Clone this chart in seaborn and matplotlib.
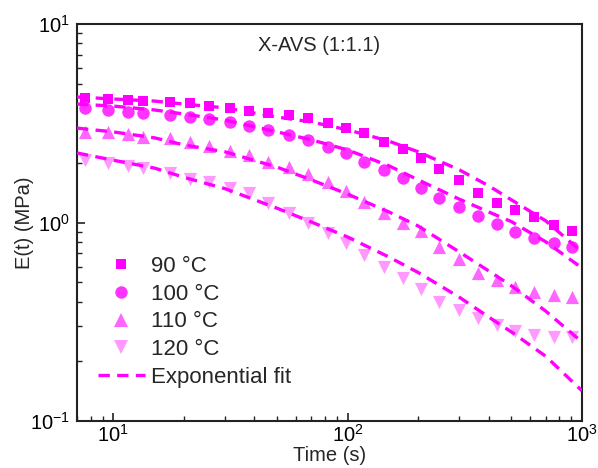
import numpy as np
import pandas as pd
import seaborn as sns
import matplotlib
matplotlib.use("Agg")
import matplotlib.pyplot as plt
from matplotlib.lines import Line2D
from matplotlib.ticker import LogLocator, NullFormatter

# Relaxation modulus measurements (time in s, modulus in MPa)
time_s = [7.6, 9.5, 11.5, 13.4, 17.5, 21.3, 25.5, 31.6, 37.8, 45.5, 56.0, 67.5, 82.2,
          98.0, 117, 143, 172, 205, 245, 298, 359, 434, 517, 624, 759, 906]
E_90 = [4.24, 4.19, 4.14, 4.09, 4.05, 4.00, 3.86, 3.78, 3.65, 3.56, 3.48, 3.36, 3.17,
        2.99, 2.83, 2.55, 2.35, 2.12, 1.87, 1.64, 1.41, 1.25, 1.16, 1.07, 0.97, 0.91]
E_100 = [3.78, 3.69, 3.60, 3.56, 3.48, 3.40, 3.32, 3.21, 3.08, 2.93, 2.76, 2.61, 2.40,
         2.24, 2.02, 1.84, 1.67, 1.50, 1.33, 1.20, 1.08, 0.98, 0.90, 0.84, 0.79, 0.75]
E_110 = [2.86, 2.86, 2.79, 2.70, 2.67, 2.55, 2.43, 2.29, 2.19, 2.02, 1.90, 1.75, 1.60,
         1.44, 1.27, 1.12, 0.99, 0.91, 0.75, 0.655, 0.557, 0.513, 0.473, 0.447, 0.431, 0.421]
E_120 = [2.06, 1.99, 1.93, 1.88, 1.78, 1.66, 1.60, 1.49, 1.41, 1.25, 1.12, 0.99, 0.885,
         0.79, 0.686, 0.597, 0.525, 0.463, 0.397, 0.362, 0.330, 0.305, 0.284, 0.271, 0.265, 0.265]

# Exponential fit curves sampled along the time axis
fit_time = [7, 10, 15, 20, 30, 50, 70, 100, 150, 200, 300, 400, 500, 700, 1000]
fit_90 = [4.29, 4.19, 4.09, 3.95, 3.78, 3.40, 3.21, 2.93, 2.57, 2.27, 1.84, 1.53, 1.30, 1.02, 0.71]
fit_100 = [3.95, 3.86, 3.69, 3.52, 3.28, 2.86, 2.61, 2.32, 1.93, 1.64, 1.31, 1.13, 1.01, 0.80, 0.59]
fit_110 = [2.99, 2.86, 2.67, 2.46, 2.27, 1.90, 1.64, 1.39, 1.13, 0.96, 0.71, 0.57, 0.48, 0.358, 0.25]
fit_120 = [2.24, 2.06, 1.88, 1.69, 1.48, 1.18, 1.006, 0.845, 0.67, 0.56, 0.42, 0.334, 0.281, 0.212, 0.142]

labels = ["90 °C", "100 °C", "110 °C", "120 °C"]
markers = ["s", "o", "^", "v"]
colors = ["#ff00ff", "#ff33ff", "#ff66ff", "#ff99ff"]
sizes = [62, 80, 90, 90]
fit_color = "#ff00ff"
fit_dash = (0, (3.4, 2.2))

sns.set_theme(style="white")
plt.rcParams["font.family"] = ["Liberation Sans", "DejaVu Sans"]
plt.rcParams["mathtext.fontset"] = "custom"
plt.rcParams["mathtext.rm"] = "Liberation Sans"
plt.rcParams["axes.unicode_minus"] = False

fig = plt.figure(figsize=(5.98, 4.68), dpi=100)
ax = fig.add_axes([0.1288, 0.1004, 0.8444, 0.8483])

series = [E_90, E_100, E_110, E_120]
fits = [fit_90, fit_100, fit_110, fit_120]

for vals, lab, mk, col, sz in zip(series, labels, markers, colors, sizes):
    df = pd.DataFrame({"t": time_s, "E": vals})
    sns.scatterplot(data=df, x="t", y="E", marker=mk, color=col, s=sz,
                    linewidth=0, ax=ax, zorder=3, legend=False)

for fv in fits:
    dff = pd.DataFrame({"t": fit_time, "E": fv})
    sns.lineplot(data=dff, x="t", y="E", color=fit_color, lw=2.4,
                 linestyle=fit_dash, ax=ax, zorder=4, legend=False)

ax.set_xscale("log")
ax.set_yscale("log")
ax.set_xlim(7.0, 1000)
ax.set_ylim(0.1, 10)

ax.xaxis.set_major_locator(LogLocator(base=10))
ax.xaxis.set_minor_locator(LogLocator(base=10, subs=np.arange(2, 10)))
ax.yaxis.set_major_locator(LogLocator(base=10))
ax.yaxis.set_minor_locator(LogLocator(base=10, subs=np.arange(2, 10)))
ax.xaxis.set_minor_formatter(NullFormatter())
ax.yaxis.set_minor_formatter(NullFormatter())

ax.tick_params(which="both", direction="in", left=True, bottom=True,
               top=False, right=False, colors="#222222", labelcolor="black")
ax.tick_params(which="major", length=6, width=1.2, labelsize=14.5, pad=5)
ax.tick_params(axis="x", which="major", pad=2)
ax.tick_params(which="minor", length=3.5, width=1.0)

for sp in ax.spines.values():
    sp.set_color("#222222")
    sp.set_linewidth(1.5)

ax.set_xlabel("Time (s)", fontsize=14.5, labelpad=0)
ax.set_ylabel("E(t) (MPa)", fontsize=14.5)
ax.yaxis.set_label_coords(-0.085, 0.5)
ax.grid(False)

ax.text(0.48, 0.947, "X-AVS (1:1.1)", transform=ax.transAxes,
        ha="center", va="center", fontsize=14.5)

handles = [Line2D([], [], marker=mk, color=col, linestyle="none",
                  markersize=np.sqrt(sz), markeredgewidth=0)
           for mk, col, sz in zip(markers, colors, sizes)]
handles.append(Line2D([], [], color=fit_color, lw=2.4, linestyle=fit_dash))
ax.legend(handles, labels + ["Exponential fit"], loc="lower left",
          bbox_to_anchor=(0.015, 0.05), frameon=False, fontsize=16,
          handlelength=2.1, handletextpad=0.3, labelspacing=0.3,
          borderaxespad=0.2)

fig.savefig("out.png", dpi=100)
